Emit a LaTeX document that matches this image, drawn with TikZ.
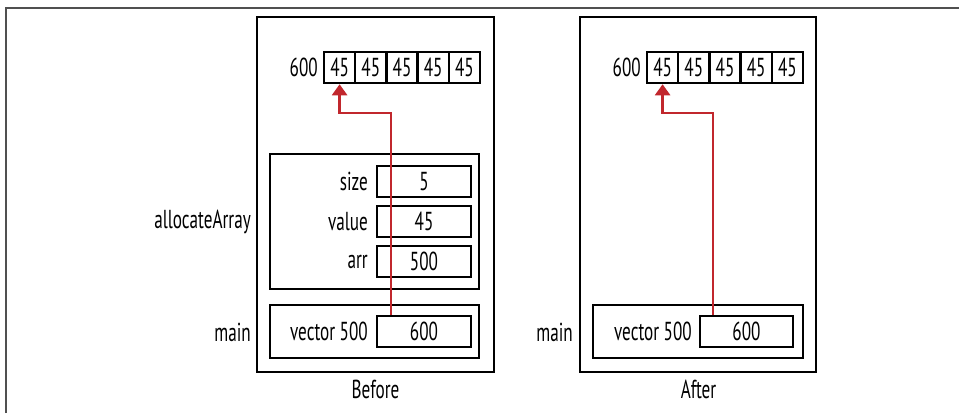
\documentclass[tikz,border=0pt]{standalone}
\usepackage{fontspec}
\setmainfont[FakeStretch=0.66]{PT Sans}
\usetikzlibrary{arrows.meta,calc}
\definecolor{ptrred}{RGB}{193,39,45}
\definecolor{framegray}{RGB}{80,80,80}
\tikzset{
  x=1pt, y=-1pt,
  every node/.style={font=\fontsize{26}{28}\selectfont, inner sep=0pt},
  frame/.style={draw, line width=2.5pt},
  cell/.style={draw, line width=2.5pt, minimum width=31.2pt, minimum height=31pt},
  valbox/.style={draw, line width=2.5pt, minimum width=94pt, minimum height=31pt},
  lbl/.style={anchor=east},
  ptr/.style={draw=ptrred, line width=2.5pt, -{Triangle[width=15pt,length=11pt]}},
}
\begin{document}
\begin{tikzpicture}
\useasboundingbox (0,0) rectangle (959,413);
\draw[framegray, line width=1.5pt] (6,413) -- (6,8) -- (959,8);

% Before
\node[frame, minimum width=237pt, minimum height=355pt] (bframe) at (375.5,194.5) {};
\foreach \i in {1,...,5} {
  \node[cell] (bc\i) at ({339.6+31.2*(\i-1)},67.5) {45};
}
\node[lbl] (b600) at (318,67.5) {600};
\node[frame, minimum width=209pt, minimum height=135pt] (balloc) at (374.5,221.5) {};
\node[valbox] (bsize) at (424,181.5) {5};
\node[valbox] (bvalue) at (424,221.5) {45};
\node[valbox] (barr) at (424,261.5) {500};
\node[lbl] (bsizel) at (368,181.5) {size};
\node[lbl] (bvaluel) at (368,221.5) {value};
\node[lbl] (barrl) at (368,261.5) {arr};
\node[frame, minimum width=209pt, minimum height=53pt] (bmain) at (374.5,331.5) {};
\node[valbox] (bvec) at (424,331.5) {600};
\node[lbl] (bvecl) at (368,331.5) {vector 500};
\node[lbl] (allocl) at (251,222) {allocateArray};
\node[lbl] (bmainl) at (251,332) {main};
\node (before) at (375.5,389) {Before};
\coordinate (bturn) at (0,113);
\coordinate (bs) at ([xshift=15pt]bvec.north west);
\draw[ptr] (bs) -- (bs |- bturn) -| (bc1.south);

% After
\node[frame, minimum width=236pt, minimum height=355pt] (aframe) at (698,194.5) {};
\foreach \i in {1,...,5} {
  \node[cell] (ac\i) at ({662.6+31.2*(\i-1)},67.5) {45};
}
\node[lbl] (a600) at (641,67.5) {600};
\node[frame, minimum width=210pt, minimum height=53pt] (amain) at (698,331.5) {};
\node[valbox, minimum width=93pt] (avec) at (746.5,331.5) {600};
\node[lbl] (avecl) at (692,331.5) {vector 500};
\node[lbl] (amainl) at (573,332) {main};
\node (after) at (698.5,389) {After};
\coordinate (as) at ([xshift=14pt]avec.north west);
\draw[ptr] (as) -- (as |- bturn) -| (ac1.south);
\end{tikzpicture}
\end{document}
